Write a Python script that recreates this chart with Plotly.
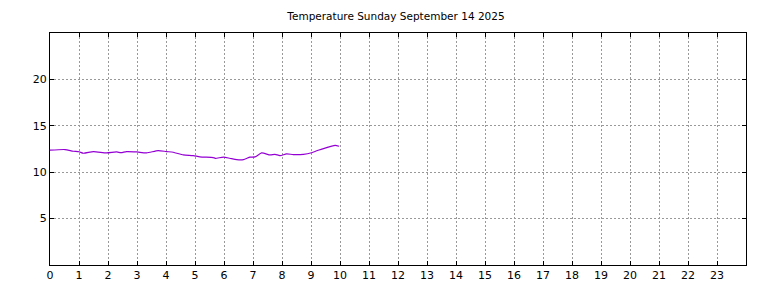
import plotly.graph_objects as go

hours = [0.0, 0.52, 0.8, 1.0, 1.15, 1.5, 1.95, 2.3, 2.45, 2.64, 2.99, 3.33, 3.73, 4.02, 4.25,
         4.6, 4.94, 5.17, 5.63, 5.7, 5.98, 6.2, 6.44, 6.67, 6.9, 7.07, 7.3, 7.59, 7.76, 7.93,
         8.16, 8.39, 8.74, 9.02, 9.25, 9.54, 9.83, 9.97]
temps = [12.37, 12.44, 12.26, 12.2, 12.04, 12.22, 12.08, 12.18, 12.1, 12.22, 12.18, 12.08, 12.33, 12.22, 12.15,
         11.86, 11.79, 11.65, 11.58, 11.5, 11.62, 11.5, 11.36, 11.36, 11.62, 11.65, 12.08, 11.86, 11.93, 11.79,
         11.97, 11.9, 11.93, 12.1, 12.37, 12.65, 12.9, 12.8]

x_ticks = list(range(0, 24))
y_ticks = [5, 10, 15, 20]
title = "Temperature Sunday September 14 2025"

fig = go.Figure()
fig.add_trace(go.Scatter(x=hours, y=temps, mode="lines",
                         line=dict(color="#9400D3", width=1.2, shape="spline", smoothing=0.6),
                         hoverinfo="skip", showlegend=False))

axis_common = dict(
    showline=True, linecolor="black", linewidth=1, mirror="ticks",
    ticks="inside", ticklen=4, tickcolor="black", tickwidth=1,
    showgrid=True, gridcolor="#999999", gridwidth=1, griddash="2px,2px",
    zeroline=False, automargin=False,
    tickfont=dict(family="DejaVu Sans", size=11, color="black"),
)
fig.update_xaxes(range=[0, 24], tickvals=x_ticks, ticktext=[str(t) for t in x_ticks], **axis_common)
fig.update_yaxes(range=[0, 25], tickvals=y_ticks, ticktext=[str(t) for t in y_ticks], **axis_common)

fig.update_layout(
    width=768, height=288,
    margin=dict(l=50, r=22, t=33, b=23),
    paper_bgcolor="white", plot_bgcolor="white",
    title=dict(text=title, x=396 / 768, xanchor="center", y=1 - 16 / 288, yanchor="middle",
               font=dict(family="DejaVu Sans", size=10.5, color="black")),
)

fig.write_html("out.html", config={"displayModeBar": False})
